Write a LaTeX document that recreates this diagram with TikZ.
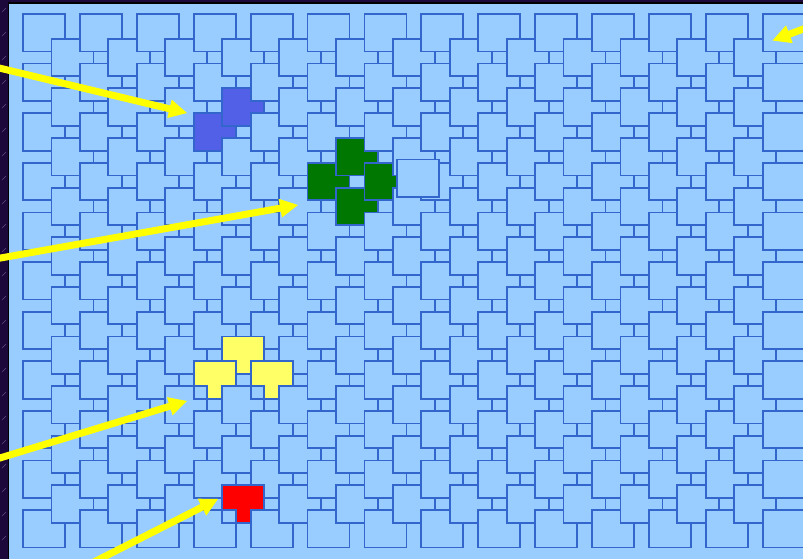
\documentclass[tikz,border=0pt]{standalone}
\usepackage{tikz}
\usetikzlibrary{calc}
\definecolor{panel}{RGB}{153,204,255}
\definecolor{edge}{RGB}{51,102,204}
\definecolor{tileblue}{RGB}{82,96,232}
\definecolor{tilegreen}{RGB}{0,119,0}
\definecolor{tileyellow}{RGB}{255,255,102}
\definecolor{tilered}{RGB}{255,0,0}
\definecolor{arrowyellow}{RGB}{255,255,0}
\definecolor{framecol}{RGB}{28,8,58}
\definecolor{stripecol}{RGB}{95,75,120}
\tikzset{
  tile/.style={fill=panel, draw=edge, line width=1.8pt},
  arrowshaft/.style={draw=arrowyellow, line width=7pt},
}
\expandafter\def\csname tc@7-3\endcsname{tileblue}
\expandafter\def\csname tc@6-4\endcsname{tileblue}
\expandafter\def\csname tc@11-5\endcsname{tilegreen}
\expandafter\def\csname tc@10-6\endcsname{tilegreen}
\expandafter\def\csname tc@12-6\endcsname{tilegreen}
\expandafter\def\csname tc@11-7\endcsname{tilegreen}
% T-shaped tile (head on top, stem below): column j, row k, colour
\newcommand\ttile[3]{%
  \pgfmathsetmacro\tx{23+28.45*#1}%
  \pgfmathsetmacro\ty{14+24.8*#2}%
  \draw[tile, fill=#3] (\tx,\ty) -- ++(42,0) -- ++(0,24.8) -- ++(-13.55,0)
     -- ++(0,12.7) -- ++(-14.9,0) -- ++(0,-12.7) -- (\tx,\ty+24.8) -- cycle;
}
% yellow arrow from start coordinate #1 to tip coordinate #2
\newcommand\yarrowdraw[2]{%
  \coordinate (hb) at ($(#2)!18pt!(#1)$);
  \draw[arrowshaft] (#1) -- ($(#2)!14pt!(#1)$);
  \fill[arrowyellow] ($(hb)!9.5pt!90:(#2)$) -- (#2) -- ($(hb)!9.5pt!-90:(#2)$) -- cycle;
}
\begin{document}
\begin{tikzpicture}[x=1pt,y=-1pt]
\useasboundingbox (0,0) rectangle (803,559);
\clip (0,0) rectangle (803,559);
% frame and panel
\fill[framecol] (0,0) rectangle (803,559);
\foreach \yy in {12,36,...,559} \draw[stripecol, line width=0.5pt] (2,\yy) -- (6,\yy-4);
\fill[panel] (8.5,3) rectangle (810,570);
\draw[black, line width=1.6pt] (8.5,570) -- (8.5,3) -- (810,3);
% lattice of overlapping squares, drawn from left to right
\foreach \j in {0,...,26}{
  \foreach \k in {0,...,20}{
    \pgfmathtruncatemacro\pty{mod(\j+\k,2)}
    \ifnum\pty=0
      \ifcsname tc@\j-\k\endcsname
        \edef\tcol{\csname tc@\j-\k\endcsname}
      \else
        \def\tcol{panel}
      \fi
      \draw[tile, fill=\tcol] ({23+28.45*\j},{14+24.8*\k}) rectangle ++(42,37.5);
    \fi
  }
}
% loose square
\draw[tile] (397,159.5) rectangle ++(42,37.5);
% yellow and red T tiles
\ttile{7}{13}{tileyellow}
\ttile{6}{14}{tileyellow}
\ttile{8}{14}{tileyellow}
\ttile{7}{19}{tilered}
% arrows
\coordinate (s1) at (-5,67);    \coordinate (t1) at (187,113);
\coordinate (s2) at (-5,259);   \coordinate (t2) at (298,205);
\coordinate (s3) at (-5,459.5); \coordinate (t3) at (187,401);
\coordinate (s4) at (88,565);   \coordinate (t4) at (218,499);
\coordinate (s5) at (810,26.5); \coordinate (t5) at (772.5,40.5);
\yarrowdraw{s1}{t1}
\yarrowdraw{s2}{t2}
\yarrowdraw{s3}{t3}
\yarrowdraw{s4}{t4}
\yarrowdraw{s5}{t5}
\end{tikzpicture}
\end{document}
